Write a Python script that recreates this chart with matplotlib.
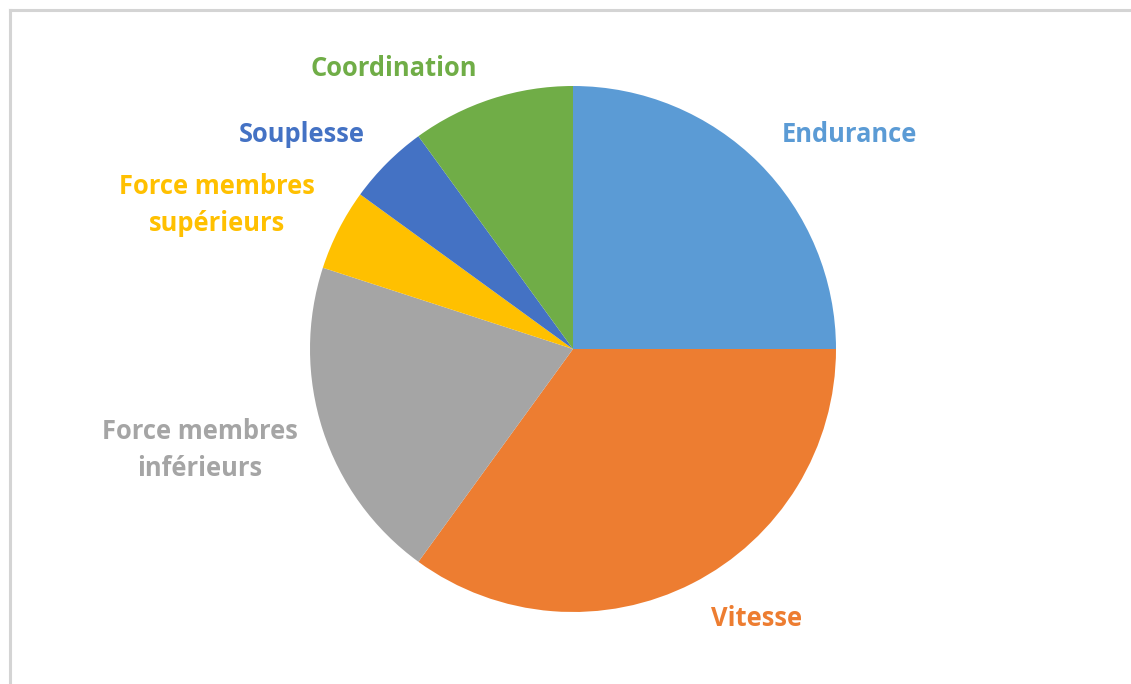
import matplotlib
matplotlib.use('Agg')
import matplotlib.pyplot as plt
from matplotlib.lines import Line2D

# Pie data (percent), clockwise from 12 o'clock
labels = ['Endurance', 'Vitesse', 'Force membres\ninférieurs',
          'Force membres\nsupérieurs', 'Souplesse', 'Coordination']
values = [25, 35, 20, 5, 5, 10]
colors = ['#5B9BD5', '#ED7D31', '#A5A5A5', '#FFC000', '#4472C4', '#70AD47']

# label centres in pixels (x from left, y from top)
label_px = [(849, 134), (757, 619), (200, 450), (217, 205), (302, 134), (394, 68)]

W, H = 1131, 684
cx, cy, r = 573, 349, 263

fig = plt.figure(figsize=(W / 100, H / 100), dpi=100)
fig.patch.set_facecolor('white')

# light grey frame: only top and left edges are visible in the original
fx, fy = 9.5 / W, 1 - 9.5 / H
fig.lines.append(Line2D([fx, 1.0], [fy, fy], transform=fig.transFigure,
                        color='#d4d4d4', linewidth=2.2))
fig.lines.append(Line2D([fx, fx], [0.0, fy], transform=fig.transFigure,
                        color='#d4d4d4', linewidth=2.2))

ax = fig.add_axes([(cx - r) / W, (H - cy - r) / H, 2 * r / W, 2 * r / H])
ax.pie(values, colors=colors, startangle=90, counterclock=False,
       radius=1.0, wedgeprops=dict(linewidth=0))
ax.set_xlim(-1, 1)
ax.set_ylim(-1, 1)
ax.axis('off')

for lab, col, (px, py) in zip(labels, colors, label_px):
    ax.text((px - cx) / r, (cy - py) / r, lab, color=col,
            ha='center', va='center', fontsize=18.4, fontweight='bold',
            family='Open Sans', linespacing=1.5, clip_on=False)

fig.savefig('out.png', dpi=100, facecolor='white')
